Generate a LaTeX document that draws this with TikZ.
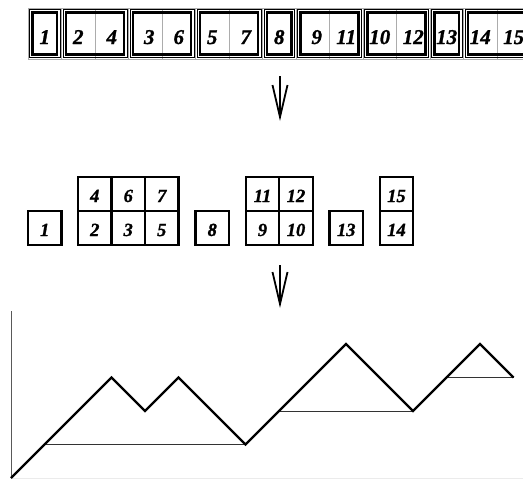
\documentclass[tikz,border=0pt]{standalone}
\usepackage{fontspec}
\newfontfamily\dfam{Liberation Serif}[BoldItalicFeatures={FakeBold=1.2}]
\usetikzlibrary{arrows.meta,calc}
\begin{document}
\begin{tikzpicture}[x=1pt,y=-1pt,
  topcell/.style={draw=gray!65,line width=0.8pt,minimum width=33.5pt,minimum height=51pt,inner sep=0pt,outer sep=0pt,
    font={\dfam\fontsize{21}{21}\selectfont\bfseries\itshape},text height=21pt,text depth=0pt},
  midcell/.style={draw=black,line width=2.2pt,minimum width=33.5pt,minimum height=33.5pt,inner sep=0pt,outer sep=0pt,
    font={\dfam\fontsize{18.5}{18.5}\selectfont\bfseries\itshape},text height=16pt,text depth=0pt},
  gthin/.style={draw=black,line width=0.9pt},
  gthick/.style={draw=black,line width=2.2pt},
  flow/.style={line width=2pt,-{Straight Barb[length=32pt,width=15pt,line width=1.8pt]}},
  curve/.style={line width=2.2pt,line join=miter},
  level/.style={line width=1pt,draw=black!80},
  axis/.style={line width=1pt,draw=black!65}]
\useasboundingbox (0,0) rectangle (523,479);
\clip (0,0) rectangle (523,479);
% top row cells
\node[topcell] (t1)  at (44.75,33.5) {1};
\node[topcell] (t2)  at (78.25,33.5) {2};
\node[topcell] (t3)  at (111.75,33.5) {4};
\node[topcell] (t4)  at (145.25,33.5) {\hspace*{8pt}3};
\node[topcell] (t5)  at (178.75,33.5) {6};
\node[topcell] (t6)  at (212.25,33.5) {5};
\node[topcell] (t7)  at (245.75,33.5) {7};
\node[topcell] (t8)  at (279.25,33.5) {8};
\node[topcell] (t9)  at (312.75,33.5) {\hspace*{8pt}9};
\node[topcell] (t10) at (346.25,33.5) {11};
\node[topcell] (t11) at (379.75,33.5) {10};
\node[topcell] (t12) at (413.25,33.5) {12};
\node[topcell] (t13) at (446.75,33.5) {13};
\node[topcell] (t14) at (480.25,33.5) {14};
\node[topcell] (t15) at (513.75,33.5) {15};
% group frames of the top row
\foreach \a/\b in {t1/t1,t2/t3,t4/t5,t6/t7,t8/t8,t9/t10,t11/t12,t13/t13,t14/t15}{
  \draw[gthin] ($(\a.north west)+(1.5,1.5)$) rectangle ($(\b.south east)+(-1.5,-1.5)$);
  \draw[gthick] ($(\a.north west)+(4.5,4.5)$) rectangle ($(\b.south east)+(-4.5,-4.5)$);
}
% arrows
\coordinate (a1s) at (280,76);
\coordinate (a1e) at (280,121);
\coordinate (a2s) at (280,265);
\coordinate (a2e) at (280,308);
\draw[flow] (a1s) -- (a1e);
\draw[flow] (a2s) -- (a2e);
% middle row
\node[midcell] (m1)  at (44.75,228) {1};
\node[midcell] (m2)  at (94.75,228) {2};
\node[midcell] (m3)  at (128.25,228) {3};
\node[midcell] (m5)  at (161.75,228) {5};
\node[midcell] (m4)  at (94.75,194) {4};
\node[midcell] (m6)  at (128.25,194) {6};
\node[midcell] (m7)  at (161.75,194) {7};
\node[midcell] (m8)  at (212.25,228) {8};
\node[midcell] (m9)  at (262.5,228) {9};
\node[midcell] (m10) at (296,228) {10};
\node[midcell] (m11) at (262.5,194) {11};
\node[midcell] (m12) at (296,194) {12};
\node[midcell] (m13) at (346.25,228) {13};
\node[midcell] (m14) at (396.5,228) {14};
\node[midcell] (m15) at (396.5,194) {15};
% bottom plot
\begin{scope}[shift={(11,478)},x=33.5pt,y=33.5pt]
  \draw[line width=0.8pt,draw=black!8] (0,0) -- (15.6,0);
  \draw[axis] (0,0) -- (0,5);
  \draw[level] (1,1) -- (7,1);
  \draw[level] (8,2) -- (12,2);
  \draw[level] (13,3) -- (15,3);
  \draw[curve] (0,0) -- (1,1) -- (3,3) -- (4,2) -- (5,3) -- (7,1) -- (8,2) -- (10,4) -- (12,2) -- (13,3) -- (14,4) -- (15,3);
\end{scope}
\end{tikzpicture}
\end{document}
